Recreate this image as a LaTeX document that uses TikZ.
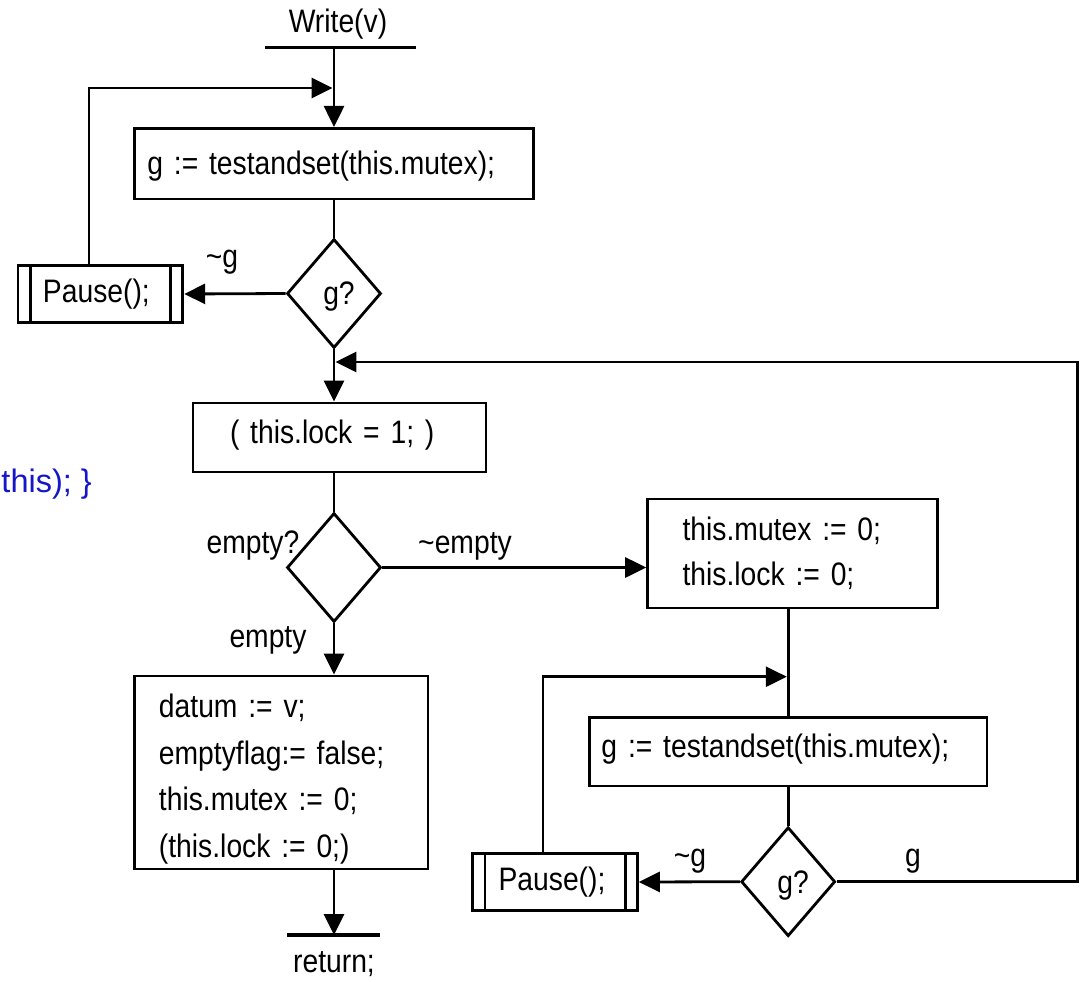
\documentclass[tikz,border=0pt]{standalone}
\usepackage{fontspec}
\setmainfont{Liberation Sans}
\newfontfamily\narrowsans[FakeStretch=0.87]{Liberation Sans}
\newcommand\flowfont{\narrowsans\fontsize{32.5}{45}\selectfont}
\newcommand\plainfont{\rmfamily\fontsize{32.5}{45}\selectfont}
\usetikzlibrary{arrows.meta,shapes.geometric}
\definecolor{codeblue}{RGB}{22,22,200}

\begin{document}
\begin{tikzpicture}[x=1pt, y=-1pt,
  flow/.style={line width=2.8pt},
  arr/.style={flow, -{Triangle[length=21pt, width=20pt]}},
  box/.style={draw, rectangle, line width=2.8pt, font=\flowfont, align=left, inner ysep=0pt},
  dia/.style={draw, diamond, line width=2.8pt, minimum width=94pt, minimum height=109pt,
              inner sep=0pt, font=\flowfont, text depth=0pt},
  pausebox/.style={draw, rectangle, line width=2.8pt, minimum width=164.8pt,
              minimum height=56.6pt, inner sep=0pt, font=\flowfont,
              path picture={
                \draw[line width=2.8pt]
                  ([xshift=12.3pt]path picture bounding box.south west) --
                  ([xshift=12.3pt]path picture bounding box.north west);
                \draw[line width=2.8pt]
                  ([xshift=-12.3pt]path picture bounding box.south east) --
                  ([xshift=-12.3pt]path picture bounding box.north east);}},
  lbl/.style={font=\flowfont, inner sep=0pt, anchor=base},
  bar/.style={line width=3.2pt}]
\useasboundingbox (0,0) rectangle (1085,982);

% fragment of the calling code
\node[lbl, anchor=base east, font=\plainfont, text=codeblue] (code) at (92,492) {this); \}};

% entry
\node[lbl] (write) at (338,33) {Write(v)};
\coordinate (wl) at (265,47.7);
\coordinate (wr) at (415.5,47.7);
\coordinate (wtop) at (334,47.7);
\draw[bar] (wl) -- (wr);

% first lock acquisition
\node[box, text width=373.3pt, inner xsep=12.5pt, minimum height=70.7pt, text depth=1pt]
  (b1) at (334,163.7) {g := testandset(this.mutex);};
\node[dia] (d1) at (334,293.5) {\hspace*{10pt}g?};
\node[pausebox] (p1) at (100.4,294) {Pause();\hspace*{8pt}};

% lock check
\node[box, text width=219pt, inner xsep=37pt, minimum height=69pt, text depth=12pt]
  (b2) at (339.5,437.5) {( this.lock = 1; )};
\node[dia] (d2) at (334,567.5) {};

% empty branch
\node[box, text width=244.5pt, inner xsep=24.5pt, minimum height=193pt,
      font={\flowfont\fontsize{32.5}{46.5}\selectfont}]
  (b4) at (281.2,772.5)
  {\rule{0pt}{37pt}datum := v;\\emptyflag:= false;\\this.mutex := 0;\\(this.lock := 0;)};
\coordinate (rl) at (287,935);
\coordinate (rr) at (380,935);
\coordinate (rtop) at (334,935);
\draw[bar] (rl) -- (rr);
\node[lbl] (ret) at (334,972) {return;};

% non-empty branch
\node[box, text width=220pt, inner xsep=35pt, minimum height=109pt]
  (b3) at (792.6,553.5) {this.mutex := 0;\\this.lock := 0;};
\node[box, text width=373.5pt, inner xsep=12pt, minimum height=68.3pt, text depth=12pt]
  (b5) at (788.2,751.9) {g := testandset(this.mutex);};
\node[dia] (d3) at (788.2,881.7) {\hspace*{10pt}g?};
\node[pausebox] (p2) at (555,882) {Pause();\hspace*{6pt}};

% junction points
\coordinate (j1) at (334,88);
\coordinate (j2) at (334,362);
\coordinate (j3) at (788.2,676.7);
\coordinate (rc) at (1077.5,362);

% branch labels
\node[lbl] (lng1) at (222,267) {\textasciitilde g};
\node[lbl] (lq) at (253,553) {empty?};
\node[lbl] (lne) at (465,553) {\textasciitilde empty};
\node[lbl] (le) at (268,647) {empty};
\node[lbl] (lng2) at (690,866) {\textasciitilde g};
\node[lbl] (lg) at (913,866) {g};

% connectors
\draw[arr] (wtop) -- (b1.north);
\draw[flow] (b1.south) -- (d1.north);
\draw[arr] (d1.west) -- (p1.east);
\draw[arr, shorten >=1.4pt] ([xshift=-11.4pt]p1.north) |- (j1);
\draw[arr] (d1.south) -- (d1.south |- b2.north);
\draw[flow] (d2.north |- b2.south) -- (d2.north);
\draw[arr] (d2.east) -- (d2.east -| b3.west);
\draw[arr] (d2.south) -- (d2.south |- b4.north);
\draw[arr] (d2.south |- b4.south) -- (rtop);
\draw[flow] (b5.north |- b3.south) -- (b5.north);
\draw[arr, shorten >=1.4pt] ([xshift=-12pt]p2.north) |- (j3);
\draw[flow] (b5.south) -- (d3.north);
\draw[arr] (d3.west) -- (p2.east);
\draw[arr, shorten >=1.4pt] (d3.east) -| (rc) -- (j2);
\end{tikzpicture}
\end{document}
